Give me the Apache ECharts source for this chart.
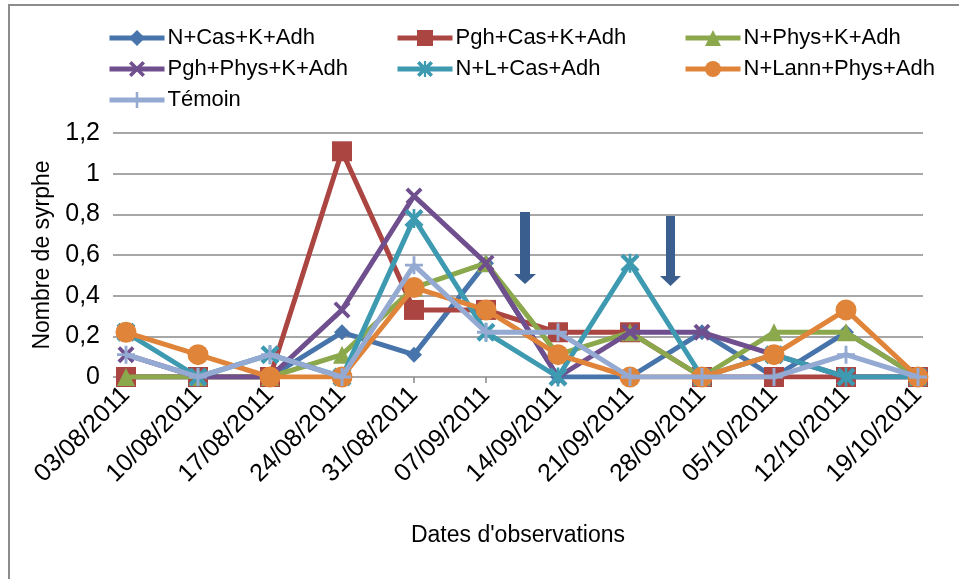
<!DOCTYPE html>
<html>
<head>
<meta charset="utf-8">
<script src="https://cdn.jsdelivr.net/npm/echarts@6/dist/echarts.min.js"></script>
<style>html,body{margin:0;padding:0;background:#fff;}#c{width:959px;height:579px;}</style>
</head>
<body>
<div id="c"></div>
<script>
const categories = ['03/08/2011','10/08/2011','17/08/2011','24/08/2011','31/08/2011','07/09/2011','14/09/2011','21/09/2011','28/09/2011','05/10/2011','12/10/2011','19/10/2011'];
const seriesNames = ['N+Cas+K+Adh','Pgh+Cas+K+Adh','N+Phys+K+Adh','Pgh+Phys+K+Adh','N+L+Cas+Adh','N+Lann+Phys+Adh','Témoin'];
const nCasK      = [0,0,0,0.22,0.11,0.56,0,0,0.22,0,0.22,0];
const pghCasK    = [0,0,0,1.11,0.33,0.33,0.22,0.22,0,0,0,0];
const nPhysK     = [0,0,0,0.11,0.44,0.56,0.11,0.22,0,0.22,0.22,0];
const pghPhysK   = [0.11,0,0,0.33,0.89,0.56,0,0.22,0.22,0.11,0,0];
const nLCas      = [0.22,0,0.11,0,0.78,0.22,0,0.56,0,0.11,0,0];
const nLannPhys  = [0.22,0.11,0,0,0.44,0.33,0.11,0,0,0.11,0.33,0];
const temoin     = [0.11,0,0.11,0,0.55,0.22,0.22,0,0,0,0.11,0];
const yTicks = [0,0.2,0.4,0.6,0.8,1,1.2];

const FONT = '"Liberation Sans", Arial, sans-serif';
const colors = ['#4674AB','#AB4542','#8BA84D','#704F8E','#3D9AB1','#E0843A','#94AAD2'];
const XPATH = 'path://M0,1.6L1.6,0L10,8.4L8.4,10Z M8.4,0L10,1.6L1.6,10L0,8.4Z';
const STARPATH = 'path://M0,1.6L1.6,0L10,8.4L8.4,10Z M8.4,0L10,1.6L1.6,10L0,8.4Z M4.3,0H5.7V10H4.3Z';
const PLUSPATH = 'path://M4.2,0H5.8V10H4.2Z M0,4.2H10V5.8H0Z';
const symbols = ['diamond','rect','triangle',XPATH,STARPATH,'circle',PLUSPATH];
const symSizes = [16,20,18,17,19,21,18];
const dataArr = [nCasK,pghCasK,nPhysK,pghPhysK,nLCas,nLannPhys,temoin];

const series = seriesNames.map((n,i)=>({
  name:n, type:'line', xAxisIndex:1, yAxisIndex:1,
  data:dataArr[i], symbol:symbols[i], symbolSize:symSizes[i],
  showSymbol:true, showAllSymbol:true, animation:false,
  lineStyle:{color:colors[i], width:5},
  itemStyle:{color:colors[i]},
  z:2+i
}));

const legPos = [[107,27],[395,27],[683,27],[107,58],[395,58],[683,58],[107,89]];
const legends = seriesNames.map((n,i)=>({
  data:[n], left:legPos[i][0], top:legPos[i][1], itemWidth:55, itemHeight:20, itemGap:0,
  lineStyle:{width:5},
  textStyle:{fontFamily:FONT, fontSize:22, color:'#000', padding:[0,0,0,-2]},
  padding:0
}));

const chart = echarts.init(document.getElementById('c'), null, {renderer:'canvas'});
chart.setOption({
  animation:false,
  backgroundColor:'#fff',
  color:colors,
  legend:legends,
  grid:[
    {left:113, right:36, top:133, bottom:202},
    {left:126, right:41, top:133, bottom:202}
  ],
  xAxis:[
    {gridIndex:0, type:'value', min:0, max:1, show:true,
     axisLine:{show:false}, axisTick:{show:false}, axisLabel:{show:false}, splitLine:{show:false},
     name:"Dates d'observations", nameLocation:'middle', nameGap:147,
     nameTextStyle:{fontFamily:FONT, fontSize:23, color:'#000'}},
    {gridIndex:1, type:'category', data:categories, boundaryGap:false,
     axisLine:{show:false},
     axisTick:{show:true, length:6, lineStyle:{color:'#8a8a8a', width:1.5}},
     axisLabel:{rotate:45, margin:14, fontFamily:FONT, fontSize:25, color:'#000', interval:0},
     splitLine:{show:false}}
  ],
  yAxis:[
    {gridIndex:0, type:'value', min:0, max:1.2, interval:0.2,
     axisLine:{show:false}, axisTick:{show:false},
     axisLabel:{margin:13, fontFamily:FONT, fontSize:25, color:'#000',
       formatter:v=>{const t=yTicks.find(x=>Math.abs(x-v)<1e-6); return String(t===undefined?v:t).replace('.',',');}},
     splitLine:{show:true, lineStyle:{color:'#8a8a8a', width:1.5}},
     name:'Nombre de syrphe', nameLocation:'middle', nameGap:49, nameRotate:90,
     nameTextStyle:{fontFamily:FONT, fontSize:23, color:'#000'}},
    {gridIndex:1, type:'value', min:0, max:1.2, interval:0.2, show:false, splitLine:{show:false}}
  ],
  series:series,
  graphic:[
    {type:'rect', shape:{x:9,y:5,width:1000,height:1000}, style:{fill:'none', stroke:'#8c8c8c', lineWidth:2}, z:100, silent:true},
    {type:'polygon', shape:{points:[[520,212],[530,212],[530,274],[536,274],[525,284],[514,274],[520,274]]}, style:{fill:'#3A5F8E'}, z:100},
    {type:'polygon', shape:{points:[[666,216],[675,216],[675,276],[681,276],[670.5,286],[660,276],[666,276]]}, style:{fill:'#3A5F8E'}, z:100}
  ]
});
</script>
</body>
</html>
